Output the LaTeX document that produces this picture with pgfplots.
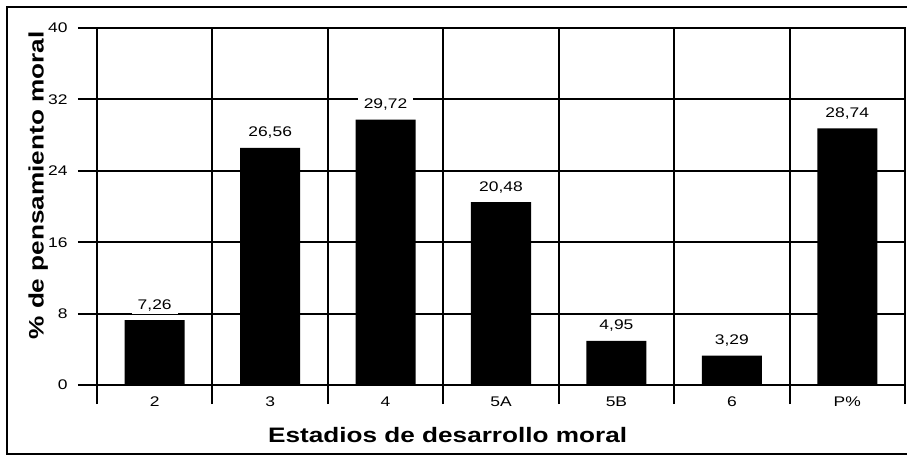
\documentclass[border=0pt]{standalone}
\usepackage{fontspec}
\setmainfont{Liberation Sans}[FakeStretch=1.25]
\usepackage{pgfplots}
\pgfplotsset{compat=1.18}
\usepackage{pgfplotstable}
\usetikzlibrary{calc}

\pgfplotstableread{
x y lab
0 7.26 7,26
1 26.56 26,56
2 29.72 29,72
3 20.48 20,48
4 4.95 4,95
5 3.29 3,29
6 28.74 28,74
}\data

\begin{document}
\begin{tikzpicture}
\begin{axis}[
  name=ax,
  at={(0,0)}, anchor=south west,
  scale only axis, width=808bp, height=357bp,
  xmin=-0.5, xmax=6.5, ymin=0, ymax=40,
  axis line style={line width=2bp},
  xtick={-0.5,0.5,1.5,2.5,3.5,4.5,5.5,6.5}, xticklabels={},
  ytick={0,8,16,24,32,40},
  grid=major, grid style={black, line width=2bp},
  tick align=outside, major tick length=19bp,
  tick style={black, line width=2bp},
  xtick pos=bottom, ytick pos=left,
  extra x ticks={0,1,2,3,4,5,6},
  extra x tick labels={2,3,4,5A,5B,6,P\%},
  extra x tick style={grid=none, major tick length=0pt,
     xticklabel style={yshift=-8bp}},
  /pgf/number format/assume math mode=true,
  ticklabel style={font=\fontsize{14}{15}\selectfont},
  yticklabel style={xshift=-7bp},
  xlabel={Estadios de desarrollo moral},
  ylabel={\% de pensamiento moral},
  xlabel style={font=\bfseries\fontsize{21}{24}\selectfont,
     at={(axis description cs:0.434,-0.160)}, anchor=base},
  ylabel style={font=\bfseries\fontsize{21}{24}\selectfont,
     at={(axis description cs:-0.066,0.559)}, anchor=base},
]
\addplot[ybar, bar width=0.52, fill=black, draw=none,
  nodes near coords, point meta=explicit symbolic,
  every node near coord/.append style={font=\fontsize{14}{15}\selectfont,
     fill=white, anchor=base, yshift=11bp, inner xsep=6bp, inner ysep=3bp}]
  table[x=x, y=y, meta=lab]{\data};
\end{axis}
\draw[line width=2bp] ($(ax.south west)+(812bp,378bp)$) -- ($(ax.south west)+(-90bp,378bp)$)
   -- ($(ax.south west)+(-90bp,-69bp)$) -- ($(ax.south west)+(812bp,-69bp)$);
\pgfresetboundingbox
\path[use as bounding box] ($(ax.south west)+(-97bp,-72bp)$) rectangle ($(ax.south west)+(810bp,385bp)$);
\end{tikzpicture}
\end{document}
